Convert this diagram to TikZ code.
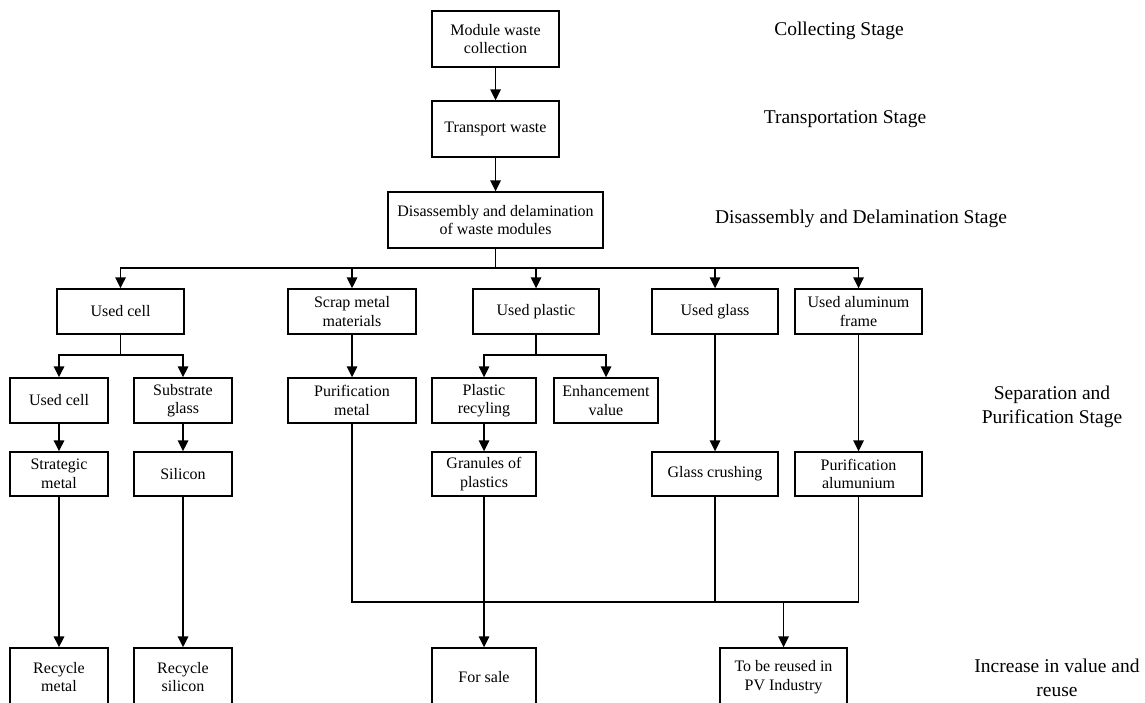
\documentclass[tikz,border=0pt]{standalone}
\usepackage{fontspec}
\setmainfont{Liberation Serif}
\usetikzlibrary{positioning,arrows.meta,calc}

\begin{document}
\begin{tikzpicture}[x=1pt,y=-1pt,
  box/.style={draw, line width=1.4pt, align=center, inner sep=2pt,
    font=\fontsize{16}{18.5}\selectfont},
  stage/.style={align=center, font=\fontsize{19.5}{23.5}\selectfont},
  arr/.style={line width=1.6pt, -{Triangle[length=11pt,width=10.5pt]}},
  link/.style={line width=1.3pt}]

\useasboundingbox (0,0) rectangle (1145,702);
\clip (0,0) rectangle (1145,702);

% main chain
\node[box, minimum width=127pt, minimum height=56pt] (collect) at (495.5,39) {Module waste\\collection};
\node[box, minimum width=127pt, minimum height=56pt] (transport) at (495.5,129) {Transport waste};
\node[box, minimum width=215pt, minimum height=56pt] (disasm) at (495.5,220) {Disassembly and delamination\\of waste modules};
\draw[arr] (collect) -- (transport);
\draw[arr] (transport) -- (disasm);

% second row
\node[box, minimum width=127pt, minimum height=45pt] (usedcell) at (120.5,311.5) {Used cell};
\node[box, minimum width=128pt, minimum height=45pt] (scrap) at (352,311.5) {Scrap metal\\materials};
\node[box, minimum width=126pt, minimum height=45pt] (uplastic) at (536,311.5) {Used plastic};
\node[box, minimum width=126pt, minimum height=45pt] (uglass) at (715,311.5) {Used glass};
\node[box, minimum width=127pt, minimum height=45pt] (ualu) at (858.5,311.5) {Used aluminum\\frame};

\coordinate (j1) at (495.5,268);
\draw[link] (disasm) -- (j1);
\foreach \n in {usedcell,scrap,uplastic,uglass,ualu}
  \draw[arr] (j1) -| (\n);

% third row
\node[box, minimum width=98pt, minimum height=45pt] (ucell) at (59,400.5) {Used cell};
\node[box, minimum width=98pt, minimum height=45pt] (subglass) at (183,400.5) {Substrate\\glass};
\node[box, minimum width=128pt, minimum height=45pt] (pmetal) at (352,400.5) {Purification\\metal};
\node[box, minimum width=104pt, minimum height=45pt] (precy) at (484,400.5) {Plastic\\recyling};
\node[box, minimum width=104pt, minimum height=45pt] (enhance) at (606,400.5) {Enhancement\\value};

\coordinate (j2) at (120.5,355);
\coordinate (j3) at (536,355);
\draw[link] (usedcell) -- (j2);
\draw[arr] (j2) -| (ucell);
\draw[arr] (j2) -| (subglass);
\draw[arr] (scrap) -- (pmetal);
\draw[link] (uplastic) -- (j3);
\draw[arr] (j3) -| (precy);
\draw[arr] (j3) -| (enhance);

% fourth row
\node[box, minimum width=98pt, minimum height=44pt] (strat) at (59,474) {Strategic\\metal};
\node[box, minimum width=98pt, minimum height=44pt] (silicon) at (183,474) {Silicon};
\node[box, minimum width=104pt, minimum height=44pt] (granules) at (484,474) {Granules of\\plastics};
\node[box, minimum width=126pt, minimum height=44pt] (gcrush) at (715,474) {Glass crushing};
\node[box, minimum width=127pt, minimum height=44pt] (palu) at (858.5,474) {Purification\\alumunium};

\draw[arr] (ucell) -- (strat);
\draw[arr] (subglass) -- (silicon);
\draw[arr] (precy) -- (granules);
\draw[arr] (uglass) -- (gcrush);
\draw[arr] (ualu) -- (palu);

% last row
\node[box, minimum width=98pt, minimum height=58pt] (rmetal) at (59,677) {Recycle\\metal};
\node[box, minimum width=98pt, minimum height=58pt] (rsilicon) at (183,677) {Recycle\\silicon};
\node[box, minimum width=104pt, minimum height=58pt] (forsale) at (484,677) {For sale};
\node[box, minimum width=127pt, minimum height=58pt] (reuse) at (783.5,677) {To be reused in\\PV Industry};

\draw[arr] (strat) -- (rmetal);
\draw[arr] (silicon) -- (rsilicon);
\draw[arr] (granules) -- (forsale);

\coordinate (merge) at (783.5,602);
\draw[link] (pmetal) |- (merge);
\draw[link] (gcrush) -- (gcrush |- merge);
\draw[link] (palu) |- (merge);
\draw[arr] (merge) -- (reuse);

% stages
\node[stage] (s1) at (839,31) {Collecting Stage};
\node[stage] (s2) at (845,119) {Transportation Stage};
\node[stage] (s3) at (861,219) {Disassembly and Delamination Stage};
\node[stage] (s4) at (1052,407) {Separation and\\Purification Stage};
\node[stage] (s5) at (1057,678) {Increase in value and\\reuse};

\end{tikzpicture}
\end{document}
